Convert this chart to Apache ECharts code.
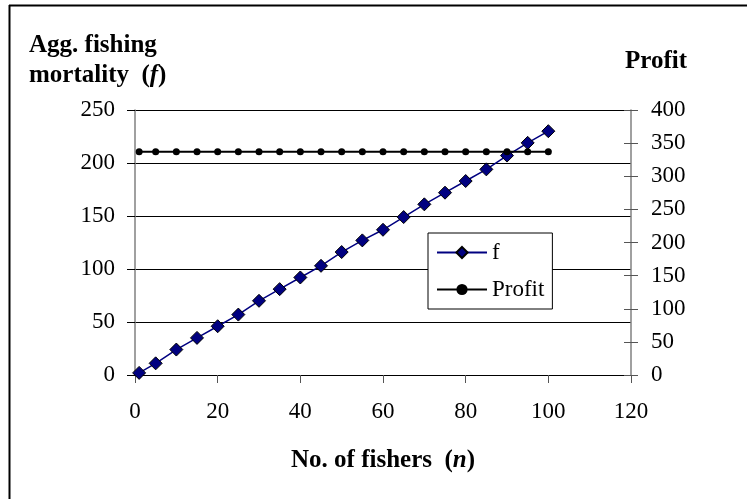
<!DOCTYPE html>
<html>
<head>
<meta charset="utf-8">
<script src="https://cdn.jsdelivr.net/npm/echarts@6/dist/echarts.min.js"></script>
<style>
html,body{margin:0;padding:0;background:#fff;}
#chart{width:747px;height:499px;}
</style>
</head>
<body>
<div id="chart"></div>
<script>
const nFishers = [1, 5, 10, 15, 20, 25, 30, 35, 40, 45, 50, 55, 60, 65, 70, 75, 80, 85, 90, 95, 100];
const fValues = [2, 11, 24, 35, 46, 57, 70, 81, 92, 103, 116, 127, 137, 149, 161, 172, 183, 194, 207, 219, 230];
const profitValues = [337, 337, 337, 337, 337, 337, 337, 337, 337, 337, 337, 337, 337, 337, 337, 337, 337, 337, 337, 337, 337];
const xTicks = {min: 0, max: 120, interval: 20};
const leftTicks = {min: 0, max: 250, interval: 50};
const rightTicks = {min: 0, max: 400, interval: 50};

const FONT = '"Liberation Serif", "Times New Roman", serif';
const chart = echarts.init(document.getElementById('chart'), null, {renderer: 'canvas'});

const fData = nFishers.map((n, i) => [n, fValues[i]]);
const pData = nFishers.map((n, i) => [n, profitValues[i]]);

const labelStyle = {color: '#000', fontFamily: FONT, fontSize: 23};
const TS = 25;

chart.setOption({
  backgroundColor: '#fff',
  animation: false,
  title: [
    {
      text: '{b|Agg. fishing}\n{b|mortality  (}{bi|f}{b|)}',
      left: 29, top: 31, padding: 0,
      textStyle: {
        rich: {
          b: {fontFamily: FONT, fontSize: TS, fontWeight: 'bold', color: '#000', lineHeight: 30},
          bi: {fontFamily: FONT, fontSize: TS, fontWeight: 'bold', fontStyle: 'italic', color: '#000', lineHeight: 30}
        }
      }
    },
    {
      text: 'Profit',
      left: 625, top: 49, padding: 0,
      textStyle: {fontFamily: FONT, fontSize: TS, fontWeight: 'bold', color: '#000'}
    }
  ],
  legend: {
    orient: 'vertical',
    left: 428, top: 233,
    padding: [8, 8, 8, 8],
    itemGap: 14,
    itemWidth: 50, itemHeight: 14,
    borderColor: '#000', borderWidth: 1,
    backgroundColor: '#fff',
    textStyle: {fontFamily: FONT, fontSize: 23, color: '#000', padding: [0, 0, 0, 0]},
    data: ['f', 'Profit']
  },
  grid: {left: 135, right: 116, top: 110, bottom: 124, containLabel: false},
  xAxis: {
    type: 'value',
    min: xTicks.min, max: xTicks.max, interval: xTicks.interval,
    name: '{b|No. of fishers  (}{bi|n}{b|)}',
    nameLocation: 'middle',
    nameGap: 73,
    nameTextStyle: {
      rich: {
        b: {fontFamily: FONT, fontSize: TS, fontWeight: 'bold', color: '#000'},
        bi: {fontFamily: FONT, fontSize: TS, fontWeight: 'bold', fontStyle: 'italic', color: '#000'}
      }
    },
    axisLine: {show: true, onZero: false, lineStyle: {color: '#000', width: 1}},
    axisTick: {show: true, length: 8, lineStyle: {color: '#555', width: 1}},
    axisLabel: Object.assign({margin: 25}, labelStyle),
    splitLine: {show: false}
  },
  yAxis: [
    {
      type: 'value', position: 'left',
      min: leftTicks.min, max: leftTicks.max, interval: leftTicks.interval,
      axisLine: {show: true, lineStyle: {color: '#808080', width: 1.5}},
      axisTick: {show: true, length: 8, lineStyle: {color: '#000', width: 1}},
      axisLabel: Object.assign({margin: 20}, labelStyle),
      splitLine: {show: true, lineStyle: {color: '#000', width: 1}}
    },
    {
      type: 'value', position: 'right',
      min: rightTicks.min, max: rightTicks.max, interval: rightTicks.interval,
      axisLine: {show: true, lineStyle: {color: '#808080', width: 1.5}},
      axisTick: {show: true, length: 7, lineStyle: {color: '#555', width: 1}},
      axisLabel: Object.assign({margin: 20}, labelStyle),
      splitLine: {show: false}
    },
    {
      type: 'value', position: 'right',
      min: rightTicks.min, max: rightTicks.max, interval: rightTicks.interval,
      axisLine: {show: false},
      axisTick: {show: true, inside: true, length: 7, lineStyle: {color: '#555', width: 1}},
      axisLabel: {show: false},
      splitLine: {show: false}
    }
  ],
  series: [
    {
      name: 'f', type: 'line', yAxisIndex: 0,
      data: fData,
      symbol: 'diamond', symbolSize: 13,
      lineStyle: {color: '#000080', width: 1.5},
      itemStyle: {color: '#000080', borderColor: '#000', borderWidth: 1},
      z: 3
    },
    {
      name: 'Profit', type: 'line', yAxisIndex: 1,
      data: pData,
      symbol: 'circle', symbolSize: 7,
      lineStyle: {color: '#000', width: 2},
      itemStyle: {color: '#000', borderColor: '#000', borderWidth: 0},
      z: 4
    }
  ],
  graphic: [
    {type: 'line', shape: {x1: 9.5, y1: 5, x2: 9.5, y2: 499}, style: {stroke: '#000', lineWidth: 2}, silent: true},
    {type: 'line', shape: {x1: 9, y1: 5.5, x2: 747, y2: 5.5}, style: {stroke: '#000', lineWidth: 2}, silent: true}
  ]
});
</script>
</body>
</html>
